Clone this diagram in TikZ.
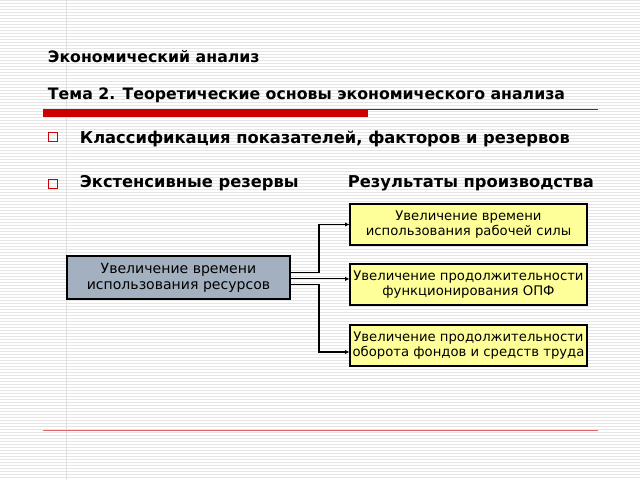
\documentclass[tikz,border=0pt]{standalone}
\usepackage{fontspec}
\setmainfont{DejaVu Sans}
\usetikzlibrary{arrows.meta}
\usetikzlibrary{positioning}

\definecolor{slidered}{RGB}{204,0,0}
\definecolor{boxgray}{RGB}{163,176,192}
\definecolor{boxyellow}{RGB}{255,255,153}

\tikzset{
  head/.style={anchor=west,font=\bfseries\fontsize{11.2}{13}\selectfont},
  item/.style={anchor=west,font=\bfseries\fontsize{11.6}{13}\selectfont},
  bullet/.style={draw=slidered,thick,minimum size=7pt,inner sep=0pt},
  res/.style={draw,thick,fill=boxyellow,minimum width=237*0.025cm,minimum height=41*0.025cm,
    align=center,inner sep=1pt,font=\fontsize{9.4}{11}\selectfont},
  link/.style={thick,-{Latex[length=3pt,width=3pt]}}
}

\begin{document}
\begin{tikzpicture}[x=0.025cm,y=-0.025cm]

        \useasboundingbox (0,0) rectangle (640,480);
        % striped background
        \foreach \y in {0,3,...,480}
            \draw[black!10,line width=0.3pt] (0,\y) -- (640,\y);
        \draw[black!12] (66,0) -- (66,480);

        \node[head] (course) at (43,57) {Экономический анализ};
        \node[head] (topic) at (43,95) {Тема 2. Теоретические основы экономического анализа};

        \fill[slidered] (43,109) rectangle (368,117);
        \draw[slidered,line width=0.7pt] (368,109.5) -- (598,109.5);
        \draw[slidered!60,line width=0.5pt] (43,430) -- (598,430);

        \node[bullet] (b1) at (53,137) {};
        \node[bullet] (b2) at (53,184) {};
        \node[item] (classes) at (75,139) {Классификация показателей, факторов и резервов};
        \node[item] (ext) at (75,183) {Экстенсивные резервы};
        \node[item] (results) at (343,183) {Результаты производства};

        \node[draw,thick,fill=boxgray,minimum width=223*0.025cm,minimum height=43*0.025cm,
            align=center,inner sep=1pt,font=\fontsize{10}{11.5}\selectfont] (src) at (178.5,277.5)
            {Увеличение времени\\использования ресурсов};

        \node[res] (labour) at (468.5,224.5) {Увеличение времени\\использования рабочей силы};
        \node[res] (opf) at (468.5,284.5) {Увеличение продолжительности\\функционирования ОПФ};
        \node[res] (funds) at (468.5,345.5) {Увеличение продолжительности\\оборота фондов и средств труда};

        \coordinate (up) at (319,224.5);
        \coordinate (down) at (319,352);

        \draw[link] ([yshift=3.5pt]src.east) -| (up) -- (labour.west);
        \draw[link] ([yshift=-1pt]src.east) -- ([yshift=-1pt]src.east -| opf.west);
        \draw[link] ([yshift=-5pt]src.east) -| (down) -- (down -| funds.west);

\end{tikzpicture}
\end{document}
